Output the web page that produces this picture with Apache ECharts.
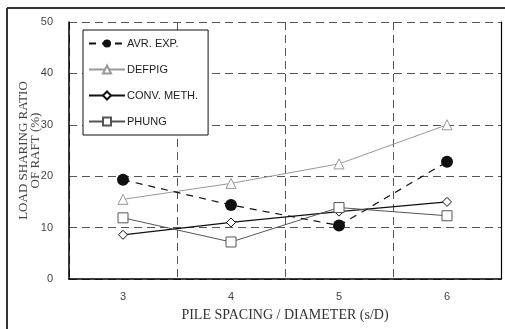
<!DOCTYPE html>
<html><head><meta charset="utf-8">
<script src="https://cdn.jsdelivr.net/npm/echarts@6/dist/echarts.min.js"></script>
<style>html,body{margin:0;padding:0;background:#fff}#c{width:505px;height:329px}</style>
</head><body><div id="c"></div>
<script>
var categories = ['3', '4', '5', '6'];
var avrExp = [19.3, 14.4, 10.4, 22.8];
var defpig = [15.5, 18.6, 22.4, 30.0];
var convMeth = [8.6, 11.0, 13.1, 15.0];
var phung = [11.9, 7.2, 13.9, 12.3];
var yTicks = [0, 10, 20, 30, 40, 50];

var chart = echarts.init(document.getElementById('c'));
var gridDash = {color: '#555', width: 1, type: [8, 5]};
chart.setOption({
  animation: false,
  backgroundColor: '#fff',
  grid: {left: 69, right: 4, top: 22, bottom: 50},
  legend: {
    orient: 'vertical', left: 83, top: 30,
    backgroundColor: '#fff', borderColor: '#111', borderWidth: 1,
    padding: [8, 10, 8, 5], itemWidth: 36, itemHeight: 10, itemGap: 15,
    textStyle: {fontFamily: 'Liberation Sans', fontSize: 11, color: '#222', padding: [0, 0, 0, -3]},
    data: ['AVR. EXP.', 'DEFPIG', 'CONV. METH.', 'PHUNG']
  },
  xAxis: {
    type: 'category', data: categories, boundaryGap: true,
    name: 'PILE SPACING / DIAMETER (s/D)', nameLocation: 'middle', nameGap: 29,
    nameTextStyle: {fontFamily: 'Liberation Serif', fontSize: 14, color: '#333'},
    axisLine: {lineStyle: {color: '#000', width: 1.5}},
    axisTick: {show: false},
    axisLabel: {fontFamily: 'Liberation Sans', fontSize: 11, color: '#444', margin: 12},
    splitLine: {show: true, lineStyle: gridDash}
  },
  yAxis: [{
    type: 'value', min: 0, max: 50, interval: 10,
    name: 'LOAD SHARING RATIO\nOF RAFT (%)', nameLocation: 'middle', nameGap: 27,
    nameMoveOverlap: false,
    nameTextStyle: {fontFamily: 'Liberation Serif', fontSize: 13, color: '#444', lineHeight: 12},
    axisLine: {show: true, lineStyle: {color: '#000', width: 1.5}},
    axisTick: {show: false},
    axisLabel: {fontFamily: 'Liberation Sans', fontSize: 11, color: '#444', margin: 16,
      formatter: function (v) { return yTicks.indexOf(v) >= 0 ? String(v) : ''; }},
    splitLine: {show: true, lineStyle: gridDash}
  }, {
    type: 'value', min: 0, max: 50, interval: 10, position: 'right',
    axisLine: {show: true, lineStyle: {color: '#000', width: 1.2}},
    axisTick: {show: false}, axisLabel: {show: false}, splitLine: {show: false}
  }],
  series: [
    {name: 'AVR. EXP.', type: 'line', data: avrExp, symbol: 'circle', symbolSize: 12,
     itemStyle: {color: '#111'}, lineStyle: {color: '#111', width: 1.2, type: [7, 6]}, z: 5},
    {name: 'DEFPIG', type: 'line', data: defpig, symbol: 'triangle', symbolSize: 10,
     itemStyle: {color: '#fff', borderColor: '#999', borderWidth: 1}, lineStyle: {color: '#999', width: 1}},
    {name: 'CONV. METH.', type: 'line', data: convMeth, symbol: 'diamond', symbolSize: 9,
     itemStyle: {color: '#fff', borderColor: '#111', borderWidth: 1}, lineStyle: {color: '#111', width: 1.3}},
    {name: 'PHUNG', type: 'line', data: phung, symbol: 'rect', symbolSize: 10,
     itemStyle: {color: '#fff', borderColor: '#555', borderWidth: 1}, lineStyle: {color: '#555', width: 1}}
  ],
  graphic: [
    {type: 'line', shape: {x1: 7, y1: 8, x2: 505, y2: 8}, style: {stroke: '#333', lineWidth: 2}},
    {type: 'line', shape: {x1: 7, y1: 8, x2: 7, y2: 329}, style: {stroke: '#333', lineWidth: 2}}
  ]
});
</script></body></html>
